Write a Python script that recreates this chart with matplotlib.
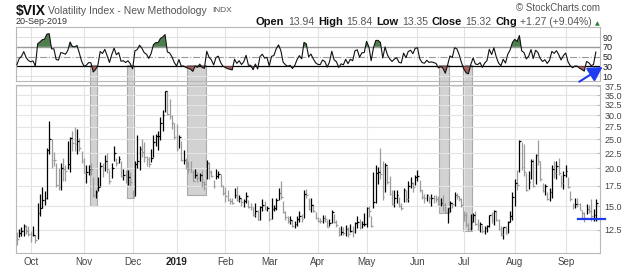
import numpy as np
import pandas as pd
import matplotlib
matplotlib.use("Agg")
import matplotlib.pyplot as plt
from matplotlib.patches import Rectangle, FancyArrowPatch
from pandas.tseries.offsets import CustomBusinessDay

plt.rcParams["font.family"] = ["Liberation Sans", "DejaVu Sans"]

# Trading calendar (NYSE closures inside the window)
HOLIDAYS = ["2018-11-22", "2018-12-05", "2018-12-25", "2019-01-01", "2019-01-21",
            "2019-02-18", "2019-04-19", "2019-05-27", "2019-07-04", "2019-09-02"]
dates = pd.date_range("2018-09-21", "2019-09-20", freq=CustomBusinessDay(holidays=HOLIDAYS))

RSI_PERIOD = 5

# closes before the chart window, only used to warm up the RSI
warmup_close = [13.15, 12.19, 11.64, 11.27, 10.93, 10.85, 11.27, 13.16, 14.78, 13.31, 14.64, 13.45,
                12.64, 12.49, 12.86, 12.25, 12.41, 11.99, 12.16, 12.50, 12.25, 13.53, 12.86, 13.16,
                13.91, 14.65, 14.88, 14.16, 13.22, 13.14, 12.37, 12.07, 13.68, 12.79, 11.75, 11.80]

close = [
    11.68, 12.20, 12.42, 12.89, 12.41, 12.12,
    12.00, 12.05, 11.61, 14.22, 14.82, 15.69, 15.95, 22.96, 24.98, 21.31, 21.30, 17.62, 17.40, 20.06,
    19.89, 19.64, 20.71, 25.23, 24.22, 24.16, 24.70, 23.35, 21.23,
    19.34, 19.51, 19.96, 19.91, 16.36, 16.72, 17.36, 20.45, 20.02, 21.25, 19.98, 18.14, 20.10, 22.48,
    20.80, 21.52, 18.90, 19.02, 18.49, 18.79, 18.07,
    16.44, 20.74, 21.19, 23.23, 22.64, 21.76, 21.46, 20.65, 21.63, 24.52, 25.58, 25.58, 28.38, 30.11,
    36.07, 30.41, 29.96, 28.34, 25.42,
    23.22, 25.45, 21.38, 21.40, 20.47, 19.98, 19.50, 18.19, 19.07, 18.60, 19.04, 18.06, 17.80, 20.80,
    19.52, 18.89, 17.42, 18.87, 19.13, 17.66, 16.57,
    16.14, 15.73, 15.57, 15.38, 16.37, 15.72, 15.97, 15.43, 15.65, 16.22, 14.91, 14.88, 14.02, 14.46,
    13.51, 14.85, 15.17, 14.70, 14.78,
    13.57, 14.63, 14.74, 15.74, 16.59, 16.05, 14.33, 13.77, 13.41, 13.50, 12.88, 13.10, 13.56, 13.91,
    13.63, 16.48, 16.33, 14.68, 15.15, 14.43, 13.71,
    13.40, 13.36, 13.74, 13.58, 12.82, 13.18, 14.28, 13.30, 13.02, 12.01, 12.32, 12.18, 12.60, 12.09,
    12.42, 12.28, 13.14, 13.25, 12.73, 13.11, 13.12,
    14.80, 14.42, 12.87, 15.44, 19.32, 19.40, 19.10, 16.04, 20.55, 18.06, 16.44, 15.29, 15.96, 16.31,
    14.95, 14.75, 16.92, 15.85, 17.50, 17.90, 17.30, 18.71,
    18.86, 16.97, 16.09, 15.93, 16.30, 15.94, 15.99, 15.91, 15.82, 15.28, 15.35, 15.15, 14.33, 14.75,
    15.40, 15.26, 16.28, 16.21, 15.82, 15.08,
    14.06, 12.93, 12.57, 13.28, 13.96, 13.03, 12.93, 13.08, 12.39, 12.68, 12.86, 13.97, 13.53, 14.45,
    13.53, 12.61, 12.07, 12.74, 12.16, 13.24, 13.94, 16.12,
    17.87, 17.61, 24.59, 20.17, 19.49, 16.91, 17.97, 21.09, 17.52, 22.10, 21.18, 18.47, 16.88, 17.50,
    15.80, 16.68, 19.87, 19.32, 20.31, 19.35, 17.88, 18.98,
    19.66, 17.33, 15.82, 15.00, 15.27, 15.20, 14.61, 14.22, 13.74, 14.67, 14.44, 13.95, 14.05, 15.32,
]

high = [
    12.26, 12.60, 12.80, 13.10, 13.00, 12.90,
    12.40, 12.90, 12.00, 15.40, 16.50, 17.40, 16.80, 23.30, 28.84, 25.00, 22.70, 20.80, 20.00, 20.90,
    21.60, 20.60, 24.70, 25.40, 26.70, 27.40, 27.10, 25.30, 22.90,
    21.60, 20.60, 20.50, 20.90, 18.80, 17.00, 18.80, 21.00, 20.80, 22.10, 22.50, 19.80, 20.90, 23.80,
    21.60, 22.00, 21.10, 19.90, 19.80, 19.70, 19.40,
    16.90, 21.20, 25.90, 23.80, 25.10, 24.50, 22.00, 21.90, 23.20, 25.90, 26.10, 26.70, 29.60, 31.20,
    36.10, 36.20, 34.00, 30.00, 28.40,
    28.00, 25.90, 24.60, 23.10, 21.60, 21.10, 21.10, 19.70, 19.90, 19.40, 19.30, 19.70, 18.10, 21.30,
    21.00, 19.80, 18.30, 19.90, 19.60, 19.10, 17.60,
    17.30, 17.00, 16.00, 15.90, 17.20, 17.50, 16.30, 15.90, 15.80, 16.70, 15.70, 15.40, 14.90, 15.30,
    14.60, 15.00, 15.80, 15.60, 15.00,
    14.40, 15.90, 15.10, 15.90, 17.20, 18.20, 15.60, 14.40, 13.90, 13.90, 13.50, 13.40, 13.90, 14.40,
    14.10, 17.00, 17.10, 16.00, 15.90, 15.20, 14.30,
    13.80, 13.70, 14.00, 14.00, 13.50, 13.60, 14.50, 14.10, 13.50, 12.80, 12.90, 12.80, 13.00, 12.80,
    13.10, 12.90, 13.30, 13.90, 13.60, 13.40, 14.20,
    14.90, 15.00, 13.90, 19.40, 20.60, 20.20, 23.40, 21.20, 20.90, 20.30, 18.90, 16.90, 17.00, 17.00,
    16.10, 15.40, 17.20, 17.00, 18.10, 18.70, 18.00, 19.00,
    19.80, 18.30, 16.90, 16.50, 16.50, 16.20, 16.40, 16.30, 16.30, 16.20, 15.90, 16.30, 15.40, 14.80,
    15.60, 15.50, 16.70, 16.60, 16.20, 16.00,
    14.40, 14.30, 13.20, 14.10, 14.20, 14.40, 13.60, 13.30, 13.00, 12.90, 13.00, 14.00, 14.30, 14.50,
    14.40, 13.60, 12.90, 12.80, 12.90, 13.40, 14.40, 16.70,
    18.40, 19.70, 24.80, 24.50, 24.20, 19.30, 19.60, 21.50, 21.50, 22.40, 24.80, 21.20, 17.90, 17.80,
    16.70, 17.20, 20.60, 21.10, 21.20, 21.60, 19.00, 19.60,
    20.60, 18.70, 16.80, 15.40, 16.00, 15.90, 15.40, 14.60, 14.30, 15.20, 15.10, 15.80, 14.70, 15.84,
]

low = [
    11.10, 11.80, 11.95, 11.90, 12.10, 11.90,
    11.40, 11.90, 11.30, 11.70, 13.90, 14.80, 15.10, 15.80, 22.30, 20.00, 20.40, 17.30, 17.00, 17.00,
    18.10, 18.20, 19.90, 19.50, 22.80, 22.90, 22.30, 22.80, 20.80,
    19.30, 17.90, 19.00, 19.00, 16.10, 15.90, 16.80, 17.50, 18.80, 19.60, 19.30, 17.70, 18.60, 21.20,
    20.30, 20.80, 18.80, 18.30, 17.90, 17.60, 17.50,
    15.90, 16.20, 20.00, 19.70, 21.90, 21.00, 20.30, 20.20, 21.00, 21.90, 23.80, 23.10, 24.80, 26.60,
    30.70, 30.10, 29.30, 27.00, 25.10,
    22.80, 23.40, 21.20, 20.70, 19.90, 19.30, 19.40, 18.10, 18.60, 18.00, 18.20, 17.40, 17.00, 18.40,
    18.40, 18.70, 17.20, 18.40, 18.60, 17.30, 16.30,
    15.50, 15.60, 15.20, 15.20, 15.90, 15.60, 15.50, 15.00, 14.90, 15.40, 14.80, 14.60, 13.90, 13.80,
    13.50, 13.50, 14.40, 14.50, 14.40,
    13.40, 13.60, 14.40, 14.60, 15.70, 15.80, 14.20, 13.50, 13.20, 13.10, 12.80, 12.70, 12.90, 13.30,
    13.30, 13.70, 15.90, 14.60, 14.30, 14.30, 13.60,
    13.30, 13.20, 13.20, 13.30, 12.80, 12.90, 13.20, 13.20, 12.80, 11.90, 12.00, 12.00, 11.90, 11.80,
    12.30, 11.80, 12.20, 12.70, 12.60, 12.70, 12.90,
    12.80, 13.80, 12.80, 14.80, 15.40, 17.70, 18.50, 15.70, 16.70, 17.80, 16.30, 15.10, 14.90, 15.40,
    14.90, 14.50, 15.50, 15.50, 15.50, 17.20, 16.70, 17.60,
    18.10, 16.70, 15.80, 15.40, 15.60, 15.30, 15.00, 15.40, 15.50, 15.10, 15.00, 14.40, 14.30, 13.20,
    14.30, 14.80, 15.00, 15.80, 15.60, 14.90,
    13.40, 12.90, 12.40, 12.50, 13.30, 13.00, 12.50, 12.30, 12.20, 12.10, 12.30, 12.80, 13.20, 13.00,
    13.40, 12.50, 11.90, 11.70, 12.10, 12.20, 13.30, 13.50,
    15.00, 16.90, 19.40, 19.80, 18.90, 16.80, 17.10, 18.40, 17.30, 17.80, 20.50, 18.20, 16.70, 16.30,
    15.70, 15.60, 15.90, 18.60, 18.50, 19.00, 17.40, 17.10,
    18.70, 17.20, 15.60, 14.70, 14.80, 14.90, 14.50, 13.70, 13.30, 14.10, 14.20, 13.40, 13.40, 13.35,
]

assert len(dates) == len(close) == len(high) == len(low)

month_labels = ["Oct", "Nov", "Dec", "2019", "Feb", "Mar", "Apr", "May", "Jun", "Jul", "Aug", "Sep"]
price_ticks = [12.5, 15.0, 17.5, 20.0, 22.5, 25.0, 27.5, 30.0, 32.5, 35.0, 37.5]
rsi_ticks = [10, 30, 50, 70, 90]

# author's oversold boxes: (first day, last day, box bottom in price)
oversold_boxes = [("2018-11-06", "2018-11-08", 15.0),
                  ("2018-11-29", "2018-12-03", 15.9),
                  ("2019-01-09", "2019-01-18", 16.3),
                  ("2019-06-17", "2019-06-20", 14.2),
                  ("2019-07-01", "2019-07-05", 12.4)]
support_level = 13.55

# Wilder RSI
s = pd.Series(warmup_close + close)
d = s.diff()
ag = d.clip(lower=0).ewm(alpha=1 / RSI_PERIOD, adjust=False).mean()
al = (-d.clip(upper=0)).ewm(alpha=1 / RSI_PERIOD, adjust=False).mean()
rsi = (100 - 100 / (1 + ag / al)).values[len(warmup_close):]

x = np.arange(len(close))
prev = np.array([warmup_close[-1]] + close[:-1])
cols = np.where(np.array(close) >= prev, "black", "#9c9c9c")
month_idx = [i for i in range(1, len(dates)) if dates[i].month != dates[i - 1].month]
date_idx = {d.strftime("%Y-%m-%d"): i for i, d in enumerate(dates)}

W, H = 640, 268
fig = plt.figure(figsize=(6.4, 2.68), dpi=100)
ax_rsi = fig.add_axes([15.7 / W, 1 - 81 / H, 584.3 / W, 53.7 / H])
ax = fig.add_axes([15.7 / W, 1 - 252.7 / H, 584.3 / W, 168.2 / H])
xlim = (-0.48, 251.8)

for a in (ax_rsi, ax):
    a.set_facecolor("none")
    a.set_xlim(*xlim)
    for sp in a.spines.values():
        sp.set_color("#b8b8b8")
        sp.set_linewidth(0.8)
    for m in month_idx:
        a.axvline(m, color="#e2e2e2", lw=0.8, zorder=0)

# RSI panel
ax_rsi.plot(x, rsi, color="#111", lw=0.8, zorder=3)
ax_rsi.fill_between(x, rsi, 70, where=rsi > 70, interpolate=True, color="#4f7f4f", lw=0, zorder=2)
ax_rsi.fill_between(x, rsi, 30, where=rsi < 30, interpolate=True, color="#a66060", lw=0, zorder=2)
for lvl in (90, 10):
    ax_rsi.axhline(lvl, color="#e2e2e2", lw=0.8, zorder=0)
ax_rsi.axhline(70, color="#9a9a9a", lw=1.0, zorder=1)
ax_rsi.axhline(50, color="#9a9a9a", lw=0.8, ls="-.", zorder=1)
ax_rsi.axhline(30, color="black", lw=0.9, zorder=1)
ax_rsi.set_ylim(0, 110)
ax_rsi.yaxis.tick_right()
ax_rsi.set_yticks(rsi_ticks)
ax_rsi.set_yticklabels([str(t) for t in rsi_ticks])
ax_rsi.tick_params(axis="y", length=0, pad=2, labelsize=6.5, labelcolor="#222")
ax_rsi.set_xticks([])

# price panel, HLC bars
ax.vlines(x, low, high, colors=cols, lw=0.9, zorder=3)
ax.hlines(close, x, x + 0.75, colors=cols, lw=0.9, zorder=3)
ax.set_yscale("log")
ax.set_ylim(10.5, 38)
ax.yaxis.set_minor_locator(matplotlib.ticker.NullLocator())
ax.set_yticks(price_ticks)
ax.set_yticklabels(["%.1f" % t for t in price_ticks])
for t in price_ticks:
    ax.axhline(t, color="#e4e4e4", lw=0.8, zorder=0)
ax.yaxis.tick_right()
ax.tick_params(axis="y", length=2, direction="in", color="#b8b8b8", pad=3, labelsize=6.5, labelcolor="#444")
ax.set_xticks(month_idx)
ax.set_xticklabels(month_labels)
ax.tick_params(axis="x", length=0, pad=3, labelsize=7, labelcolor="#444")
for lab in ax.get_xticklabels():
    if lab.get_text() == "2019":
        lab.set_fontweight("bold")
        lab.set_color("#222")

# oversold boxes spanning both panels
inv = fig.transFigure.inverted()
for start, end, bottom in oversold_boxes:
    x0, y_top = inv.transform(ax_rsi.transData.transform((date_idx[start] - 0.5, 33)))
    x1, y_bot = inv.transform(ax.transData.transform((date_idx[end] + 0.5, bottom)))
    fig.add_artist(Rectangle((x0, y_bot), x1 - x0, y_top - y_bot, transform=fig.transFigure,
                             facecolor="#d2d2d2", edgecolor="#a9a9a9", lw=0.8, zorder=-1))

# blue support line and arrow
ax.plot([242.5, 254.1], [support_level, support_level], color="#1f3cf0", lw=1.6, clip_on=False, zorder=4)
fig.add_artist(FancyArrowPatch(
    (579.3 / W, 1 - 81.7 / H), (602.5 / W, 1 - 67.0 / H), transform=fig.transFigure,
    arrowstyle="-|>,head_length=0.7,head_width=0.4", mutation_scale=12,
    color="#1f3cf0", lw=1.5, shrinkA=0, shrinkB=0, zorder=6))

# header
fig.text(16 / W, 1 - 10.5 / H, "\\$VIX", fontsize=10, fontweight="bold", va="center", color="#111")
fig.text(48 / W, 1 - 10.5 / H, "Volatility Index - New Methodology", fontsize=7.5, va="center", color="#555")
fig.text(212 / W, 1 - 11 / H, "INDX", fontsize=6, va="center", color="#555")
fig.text(16 / W, 1 - 22 / H, "20-Sep-2019", fontsize=6.5, va="center", color="#333")
fig.text(600 / W, 1 - 8 / H, "\u00a9 StockCharts.com", fontsize=7, va="center", ha="right", color="#555")

header = [("Open", True), ("13.94", False), ("High", True), ("15.84", False), ("Low", True),
          ("13.35", False), ("Close", True), ("15.32", False), ("Chg", True), ("+1.27 (+9.04%)", False)]
prev_txt = fig.text(256 / W, 1 - 22 / H, header[0][0], fontsize=8, fontweight="bold", va="center", color="#111")
for txt, bold in header[1:]:
    prev_txt = ax_rsi.annotate(txt, xy=(1, 0), xycoords=prev_txt, xytext=(2.6, 0), textcoords="offset points",
                               va="bottom", ha="left", annotation_clip=False,
                               fontsize=8 if bold else 7.5, fontweight="bold" if bold else "normal",
                               color="#111" if bold else "#555")
ax_rsi.annotate("\u25b2", xy=(1, 0), xycoords=prev_txt, xytext=(2, 0.5), textcoords="offset points",
                va="bottom", ha="left", fontsize=4.5, color="#2e7d32", annotation_clip=False,
                family=["DejaVu Sans"])

fig.savefig("out.png", dpi=100)
